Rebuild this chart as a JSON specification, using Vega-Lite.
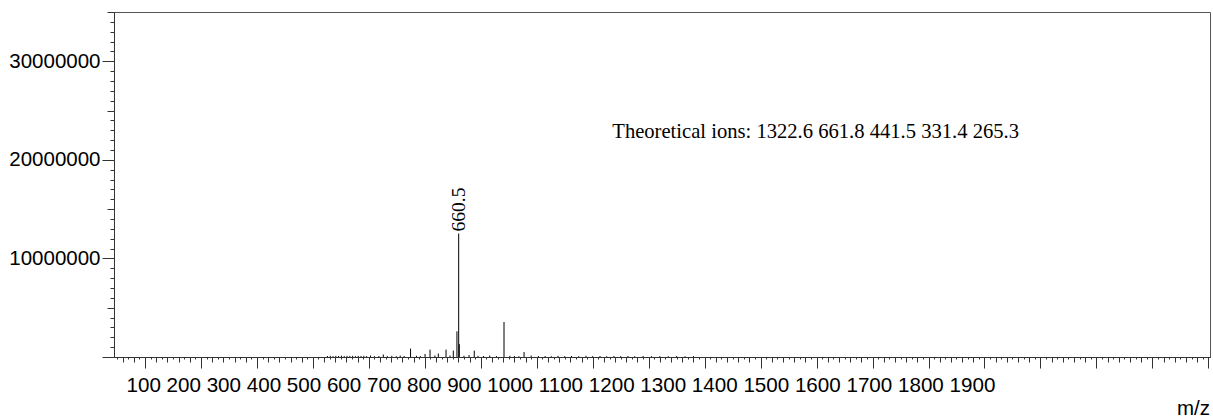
{
  "$schema": "https://vega.github.io/schema/vega-lite/v6.json",
  "width": 1096,
  "height": 345,
  "autosize": {"type": "none"},
  "padding": {"left": 114, "top": 12, "right": 3, "bottom": 63},
  "background": "white",
  "config": {
    "view": {"stroke": "#555", "strokeWidth": 1},
    "font": "Liberation Sans"
  },
  "title": {
    "text": "m/z",
    "orient": "bottom",
    "anchor": "end",
    "frame": "group",
    "font": "Liberation Sans",
    "fontSize": 20.5,
    "fontWeight": "normal",
    "color": "#000",
    "offset": 3
  },
  "datasets": {
    "peaks": [
      {"mz": 426, "intensity": 100000},
      {"mz": 431, "intensity": 120000},
      {"mz": 436, "intensity": 90000},
      {"mz": 441, "intensity": 110000},
      {"mz": 446, "intensity": 100000},
      {"mz": 451, "intensity": 130000},
      {"mz": 456, "intensity": 90000},
      {"mz": 461, "intensity": 110000},
      {"mz": 466, "intensity": 100000},
      {"mz": 471, "intensity": 120000},
      {"mz": 476, "intensity": 90000},
      {"mz": 481, "intensity": 110000},
      {"mz": 486, "intensity": 100000},
      {"mz": 491, "intensity": 120000},
      {"mz": 496, "intensity": 90000},
      {"mz": 503, "intensity": 150000},
      {"mz": 510, "intensity": 80000},
      {"mz": 518, "intensity": 100000},
      {"mz": 525.8, "intensity": 250000},
      {"mz": 533, "intensity": 90000},
      {"mz": 541, "intensity": 120000},
      {"mz": 549, "intensity": 80000},
      {"mz": 556, "intensity": 150000},
      {"mz": 563, "intensity": 100000},
      {"mz": 574.5, "intensity": 850000},
      {"mz": 585, "intensity": 120000},
      {"mz": 592, "intensity": 90000},
      {"mz": 600.4, "intensity": 300000},
      {"mz": 609.3, "intensity": 750000},
      {"mz": 618.0, "intensity": 150000},
      {"mz": 624.1, "intensity": 350000},
      {"mz": 637.9, "intensity": 750000},
      {"mz": 645, "intensity": 150000},
      {"mz": 650.9, "intensity": 650000},
      {"mz": 657.4, "intensity": 2600000},
      {"mz": 660.5, "intensity": 12530000, "label": "660.5"},
      {"mz": 661.6, "intensity": 1300000},
      {"mz": 670.0, "intensity": 120000},
      {"mz": 679.0, "intensity": 200000},
      {"mz": 688.3, "intensity": 650000},
      {"mz": 695, "intensity": 120000},
      {"mz": 705, "intensity": 100000},
      {"mz": 716, "intensity": 150000},
      {"mz": 728, "intensity": 90000},
      {"mz": 741.5, "intensity": 3550000},
      {"mz": 752, "intensity": 120000},
      {"mz": 760, "intensity": 100000},
      {"mz": 768, "intensity": 80000},
      {"mz": 777.3, "intensity": 500000},
      {"mz": 790, "intensity": 150000},
      {"mz": 803, "intensity": 90000},
      {"mz": 815, "intensity": 100000},
      {"mz": 826, "intensity": 80000},
      {"mz": 838, "intensity": 120000},
      {"mz": 850, "intensity": 90000},
      {"mz": 862, "intensity": 100000},
      {"mz": 875, "intensity": 80000},
      {"mz": 888, "intensity": 120000},
      {"mz": 900, "intensity": 90000},
      {"mz": 913, "intensity": 100000},
      {"mz": 925, "intensity": 80000},
      {"mz": 938, "intensity": 110000},
      {"mz": 950, "intensity": 90000},
      {"mz": 963, "intensity": 100000},
      {"mz": 975, "intensity": 80000},
      {"mz": 990, "intensity": 100000},
      {"mz": 1005, "intensity": 80000},
      {"mz": 1020, "intensity": 90000},
      {"mz": 1035, "intensity": 80000},
      {"mz": 1050, "intensity": 100000},
      {"mz": 1065, "intensity": 80000},
      {"mz": 1080, "intensity": 90000}
    ],
    "notes": [
      {"mz": 935, "intensity": 22250000, "text": "Theoretical ions: 1322.6 661.8 441.5 331.4 265.3"}
    ]
  },
  "encoding": {
    "x": {
      "field": "mz",
      "type": "quantitative",
      "scale": {"domain": [44.6, 2003], "nice": false, "zero": false},
      "axis": {
        "orient": "bottom",
        "grid": false,
        "labels": false,
        "tickCount": 196,
        "domainColor": "#333",
        "tickColor": "#333",
        "tickSize": {"expr": "datum.value % 100 === 0 ? 11 : (datum.value % 20 === 0 ? 5 : 2)"},
        "title": "100 200 300 400 500 600 700 800 900 1000 1100 1200 1300 1400 1500 1600 1700 1800 1900",
        "titleFont": "Liberation Sans",
        "titleFontSize": 20.6,
        "titleFontWeight": "normal",
        "titleColor": "#000",
        "titleAnchor": "start",
        "titleAlign": "left",
        "titleBaseline": "alphabetic",
        "titleX": 12,
        "titleY": 34
      }
    },
    "y": {
      "field": "intensity",
      "type": "quantitative",
      "scale": {"domain": [0, 35000000], "nice": false, "zero": true},
      "axis": {
        "orient": "left",
        "title": null,
        "grid": false,
        "tickCount": 35,
        "format": "d",
        "labelExpr": "datum.value % 10000000 === 0 && datum.value > 0 ? datum.label : ''",
        "labelOverlap": false,
        "labelFont": "Liberation Sans",
        "labelFontSize": 20.5,
        "labelColor": "#000",
        "labelPadding": 2,
        "domainColor": "#333",
        "tickColor": "#333",
        "tickSize": {"expr": "datum.value % 10000000 === 0 ? 12 : (datum.value % 5000000 === 0 ? 7 : 4)"}
      }
    }
  },
  "layer": [
    {
      "data": {"name": "peaks"},
      "mark": {"type": "rule", "color": "#000", "strokeWidth": 1},
      "encoding": {"y2": {"datum": 0}}
    },
    {
      "data": {"name": "peaks"},
      "transform": [{"filter": "isValid(datum.label)"}],
      "mark": {"type": "text", "angle": 270, "align": "left", "baseline": "middle", "dx": 2, "font": "Liberation Serif", "fontSize": 19.5, "color": "#000"},
      "encoding": {"text": {"field": "label"}}
    },
    {
      "data": {"name": "notes"},
      "mark": {"type": "text", "align": "left", "baseline": "alphabetic", "font": "Liberation Serif", "fontSize": 20.6, "color": "#000"},
      "encoding": {"text": {"field": "text"}}
    }
  ]
}
